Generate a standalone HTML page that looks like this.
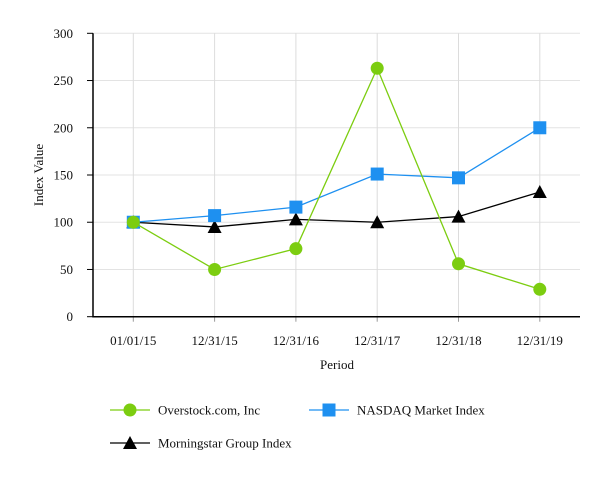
<!DOCTYPE html>
<html><head><meta charset="utf-8"><style>
html,body{margin:0;padding:0;background:#fff;}
svg text{font-family:"Liberation Serif",serif;fill:#111;}
</style></head><body>
<svg id="c" width="614" height="480" xmlns="http://www.w3.org/2000/svg">
<g id="grid"></g><g id="axes"></g><g id="series"></g><g id="legend"></g>
</svg>
<script>
const categories=["01/01/15","12/31/15","12/31/16","12/31/17","12/31/18","12/31/19"];
const overstock=[100,50,72,263,56,29];
const nasdaq=[100,107,116,151,147,200];
const morningstar=[100,95,103,100,106,132];
const yTicks=[0,50,100,150,200,250,300];
const NS="http://www.w3.org/2000/svg";
const L=93,R=580,T=33.3,B=316.7;
const x=i=>133.3+i*81.3;
const y=v=>B-(v/300)*(B-T);
function mk(tag,attrs,parent,txt){const e=document.createElementNS(NS,tag);for(const k in attrs)e.setAttribute(k,attrs[k]);if(txt!==undefined)e.textContent=txt;parent.appendChild(e);return e;}
const g=document.getElementById('grid'),a=document.getElementById('axes'),s=document.getElementById('series'),lg=document.getElementById('legend');
yTicks.forEach(t=>{
 const ln=mk('line',{x1:L,x2:R,y1:y(t),y2:y(t),stroke:'#e3e3e3','stroke-width':1},g);
 
 
 const tk=mk('line',{x1:87,x2:L,y1:y(t),y2:y(t),stroke:'#000','stroke-width':1},a);
 
 
 const tx=mk('text',{x:73,y:y(t)+4.5,'text-anchor':'end','font-size':13},a,String(t));
 
 
});
categories.forEach((c,i)=>{
 const ln=mk('line',{x1:x(i),x2:x(i),y1:T,y2:B,stroke:'#dcdcdc','stroke-width':1},g);
 
 
 const tk=mk('line',{x1:x(i),x2:x(i),y1:B,y2:B+5,stroke:'#999','stroke-width':1},a);
 
 
 const tx=mk('text',{x:x(i),y:345,'text-anchor':'middle','font-size':13},a,c);
 
 
});
const ax=mk('path',{d:`M${L},${T} V${B} H${R}`,fill:'none',stroke:'#000','stroke-width':1.5},a);


const yt=mk('text',{x:0,y:0,transform:'translate(43,175) rotate(-90)','text-anchor':'middle','font-size':13},a,'Index Value');


const xt=mk('text',{x:337,y:369,'text-anchor':'middle','font-size':13},a,'Period');


function marker(type,cx,cy,color,parent){
 if(type==='circle')return mk('circle',{cx:cx,cy:cy,r:6.5,fill:color},parent);
 if(type==='square')return mk('rect',{x:cx-6.5,y:cy-6.5,width:13,height:13,fill:color},parent);
 return mk('path',{d:`M${cx},${cy-7} L${cx+7},${cy+6} L${cx-7},${cy+6}Z`,fill:color},parent);
}
const defs=[
 {name:'morningstar',vals:morningstar,color:'#000',m:'tri'},
 {name:'nasdaq',vals:nasdaq,color:'#1e90f0',m:'square'},
 {name:'overstock',vals:overstock,color:'#7ccd10',m:'circle'}
];
defs.forEach(d=>{
 const pl=mk('polyline',{points:d.vals.map((v,i)=>x(i)+','+y(v)).join(' '),fill:'none',stroke:d.color,'stroke-width':1.3},s);
 
 
 d.vals.forEach((v,i)=>{
  const m=marker(d.m,x(i),y(v),d.color,s);
  
  
 });
});
const leg=[
 {label:'Overstock.com, Inc',color:'#7ccd10',m:'circle',lx:110,ly:410},
 {label:'NASDAQ Market Index',color:'#1e90f0',m:'square',lx:309,ly:410},
 {label:'Morningstar Group Index',color:'#000',m:'tri',lx:110,ly:443}
];
leg.forEach(l=>{
 const ge=mk('g',{},lg);
 
 
 mk('line',{x1:l.lx,x2:l.lx+40,y1:l.ly,y2:l.ly,stroke:l.color,'stroke-width':1.3},ge);
 marker(l.m,l.lx+20,l.ly,l.color,ge);
 mk('text',{x:l.lx+48,y:l.ly+4.5,'font-size':13},ge,l.label);
});
</script>
</body></html>
